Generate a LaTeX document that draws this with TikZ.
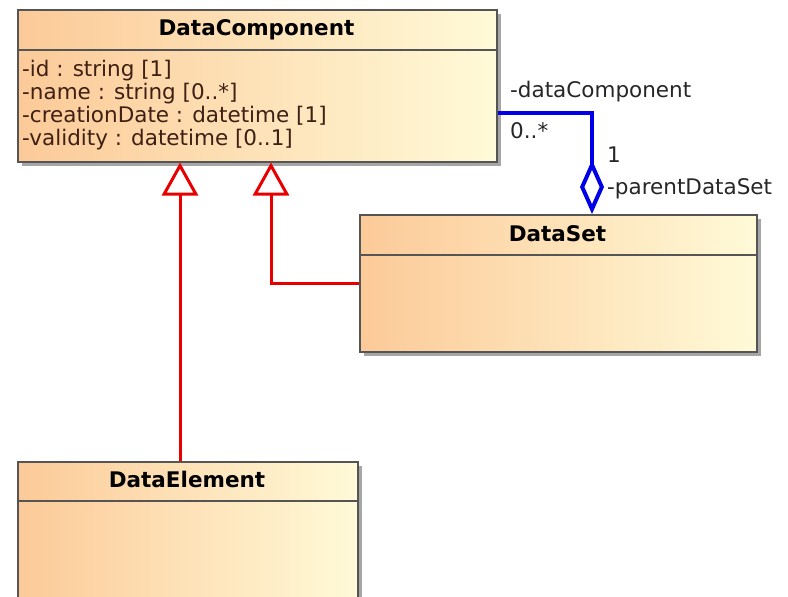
\documentclass[tikz,border=0pt]{standalone}
\usepackage{fontspec}
\setmainfont{DejaVu Sans}
\usetikzlibrary{arrows.meta,shadows}
\definecolor{boxleft}{RGB}{252,202,152}
\definecolor{boxright}{RGB}{255,250,216}
\definecolor{boxline}{RGB}{85,85,85}
\definecolor{attrtext}{RGB}{62,32,20}
\definecolor{genred}{RGB}{232,0,0}
\definecolor{assocblue}{RGB}{0,0,230}
\tikzset{
  classbox/.style={draw=boxline, line width=1.5pt, left color=boxleft, right color=boxright,
    inner sep=0pt, anchor=north west,
    drop shadow={shadow xshift=4pt, shadow yshift=-4pt, fill=black!35, opacity=1}},
  classname/.style={font=\fontsize{21.5}{23}\selectfont\bfseries, inner sep=0pt, anchor=base},
  attr/.style={font=\fontsize{21.5}{23}\selectfont, text=attrtext, align=left, inner sep=0pt, anchor=base west},
  rolename/.style={font=\fontsize{21.5}{23}\selectfont, text=black!85, inner sep=0pt, anchor=base west},
  sepline/.style={draw=boxline, line width=1.5pt},
  gen/.style={draw=genred, line width=3pt, -{Triangle[open, length=33pt, width=36pt]}},
  agg/.style={draw=assocblue, line width=4pt, {Diamond[open, length=54pt, width=24pt]}-}
}
\begin{document}
\begin{tikzpicture}[x=1pt, y=-1pt]
\useasboundingbox (0,0) rectangle (788,597);
\clip (0,0) rectangle (788,597);

\node[classbox, minimum width=479pt, minimum height=152pt] (comp) at (17,9) {};
\node[classbox, minimum width=397pt, minimum height=137pt] (set) at (359,214) {};
\node[classbox, minimum width=340pt, minimum height=160pt] (elem) at (17,461) {};

\draw[sepline] (17,50) -- (496,50);
\draw[sepline] (359,255) -- (756,255);
\draw[sepline] (17,501) -- (357,501);

\node[classname] (comptitle) at (256.5,35) {DataComponent};
\node[classname] (settitle) at (557.5,241) {DataSet};
\node[classname] (elemtitle) at (187,487) {DataElement};

\node[attr] (compattr) at (22,145) {-id : string [1]\\-name : string [0..*]\\-creationDate : datetime [1]\\-validity : datetime [0..1]};

\coordinate (genA) at (180,0);
\coordinate (genB) at (271,0);
\coordinate (assocX) at (592,0);
\coordinate (assocY) at (0,113);

\draw[gen] (elem.north -| genA) -- (comp.south -| genA);
\draw[gen] (set.west) -| (comp.south -| genB);
\draw[agg] (set.north -| assocX) |- (comp.east |- assocY);

\node[rolename] (rolecomp) at (510,97) {-dataComponent};
\node[rolename] (multcomp) at (510,138) {0..*};
\node[rolename] (multset) at (607,162) {1};
\node[rolename] (roleset) at (607,194) {-parentDataSet};
\end{tikzpicture}
\end{document}
